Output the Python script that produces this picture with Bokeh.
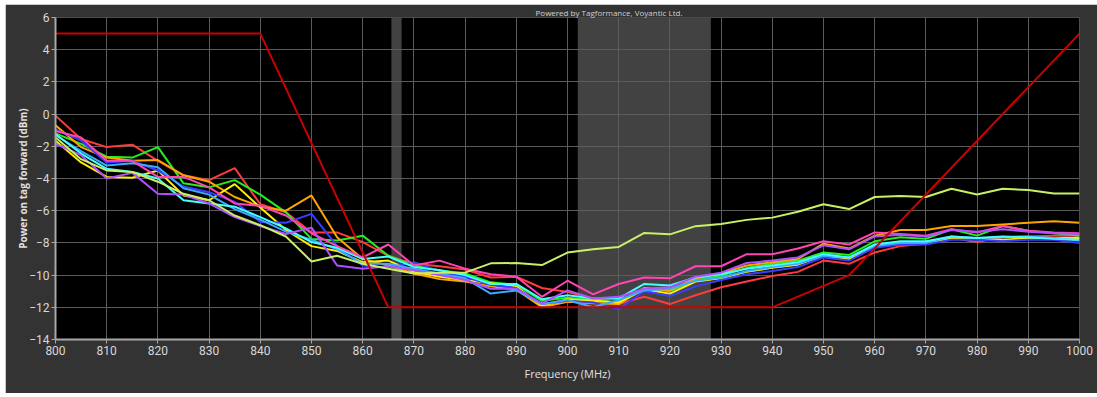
from bokeh.plotting import figure
from bokeh.models import Title
from bokeh.embed import file_html
from bokeh.resources import INLINE

# Measurement frequencies (MHz)
freq = [800, 805, 810, 815, 820, 825, 830, 835, 840, 845, 850, 855, 860, 865, 870,
        875, 880, 885, 890, 895, 900, 905, 910, 915, 920, 925, 930, 935, 940, 945,
        950, 955, 960, 965, 970, 975, 980, 985, 990, 995, 1000]

# Power on tag forward (dBm), one list per tag
tag_red = [-0.1, -1.55, -2.05, -1.9, -2.9, -3.8, -4.1, -3.35, -5.6, -6.1, -7.35, -7.35, -7.95, -8.8, -9.3,
           -9.45, -9.65, -10.15, -10.1, -10.8, -11.05, -11.45, -11.8, -11.35, -11.8, -11.25, -10.75, -10.4, -10.05, -9.8,
           -9.1, -9.3, -8.6, -8.2, -8.05, -7.7, -7.95, -7.65, -7.6, -7.55, -7.55]
tag_green = [-1.2, -1.85, -2.65, -2.7, -2.05, -4.3, -4.55, -4.1, -5.0, -6.1, -7.75, -7.85, -7.55, -8.8, -9.4,
             -9.7, -9.9, -10.45, -10.6, -11.6, -11.4, -11.55, -11.7, -10.8, -11.0, -10.3, -10.05, -9.55, -9.3, -9.1,
             -8.6, -8.75, -7.9, -7.65, -7.75, -7.15, -7.55, -6.95, -7.25, -7.4, -7.55]
tag_orange = [-0.7, -2.05, -2.7, -2.9, -2.85, -3.8, -4.2, -5.15, -5.75, -6.0, -5.05, -7.65, -9.0, -9.4, -9.9,
              -10.25, -10.4, -10.7, -10.9, -12.0, -11.65, -11.75, -11.8, -10.8, -10.95, -10.2, -9.9, -9.4, -9.2, -9.0,
              -8.05, -8.35, -7.55, -7.2, -7.2, -6.95, -6.95, -6.85, -6.75, -6.65, -6.75]
tag_yellow = [-1.65, -3.0, -3.9, -3.95, -3.5, -5.05, -5.35, -4.35, -5.8, -7.2, -8.2, -8.5, -9.2, -9.1, -9.8,
              -10.1, -10.3, -10.5, -10.7, -11.9, -11.5, -11.6, -11.7, -10.9, -11.15, -10.4, -10.2, -9.8, -9.55, -9.35,
              -8.8, -9.0, -8.2, -8.0, -8.0, -7.7, -7.75, -7.8, -7.7, -7.7, -7.7]
tag_blue = [-0.95, -1.65, -3.0, -2.9, -3.5, -4.5, -4.85, -5.45, -6.7, -6.75, -6.2, -8.2, -9.4, -9.55, -9.2,
            -9.75, -10.1, -10.6, -10.8, -11.8, -11.6, -11.7, -12.1, -11.0, -11.3, -10.7, -10.3, -9.95, -9.75, -9.5,
            -8.9, -9.1, -8.3, -8.1, -8.1, -7.8, -7.8, -7.9, -7.8, -7.8, -8.0]
tag_sky = [-1.3, -2.3, -3.2, -3.05, -3.3, -4.6, -5.0, -5.9, -6.55, -7.3, -7.8, -8.4, -9.3, -9.3, -9.6,
           -9.9, -10.2, -11.15, -10.95, -11.8, -11.55, -12.0, -11.55, -10.95, -10.85, -10.35, -10.15, -9.75, -9.5, -9.3,
           -8.8, -8.9, -8.2, -8.0, -8.0, -7.6, -7.7, -7.65, -7.6, -7.7, -7.85]
tag_cyan = [-1.25, -2.45, -3.4, -3.6, -4.0, -5.35, -5.55, -5.75, -6.4, -7.1, -7.95, -8.3, -9.0, -8.85, -9.5,
            -9.7, -10.0, -10.55, -10.55, -11.5, -11.25, -11.45, -11.45, -10.55, -10.65, -10.15, -9.95, -9.6, -9.4, -9.2,
            -8.7, -8.9, -8.1, -7.9, -7.9, -7.6, -7.7, -7.6, -7.65, -7.75, -7.8]
tag_pink = [-1.05, -1.45, -2.9, -2.9, -3.9, -3.9, -4.55, -5.55, -5.7, -6.3, -7.4, -8.2, -8.9, -8.1, -9.4,
            -9.1, -9.6, -9.95, -10.1, -11.35, -10.35, -11.2, -10.55, -10.15, -10.2, -9.45, -9.45, -8.7, -8.7, -8.35,
            -7.9, -8.1, -7.35, -7.45, -7.55, -7.15, -7.35, -6.95, -7.25, -7.35, -7.4]
tag_purple = [-1.85, -2.55, -4.0, -3.65, -4.95, -5.0, -5.55, -6.4, -6.95, -7.45, -7.05, -9.4, -9.6, -9.45, -9.7,
              -10.0, -10.3, -10.85, -10.85, -11.75, -10.95, -11.45, -11.35, -10.85, -10.75, -10.1, -9.85, -9.25, -9.1, -8.9,
              -8.15, -8.4, -7.6, -7.5, -7.6, -7.2, -7.3, -7.15, -7.3, -7.4, -7.45]
tag_lime = [-1.45, -2.8, -3.5, -3.6, -4.2, -4.95, -5.35, -6.3, -6.9, -7.6, -9.15, -8.8, -9.3, -9.6, -9.9,
            -9.85, -9.85, -9.27, -9.25, -9.38, -8.6, -8.4, -8.25, -7.38, -7.47, -6.96, -6.82, -6.57, -6.43, -6.07,
            -5.6, -5.9, -5.15, -5.08, -5.15, -4.64, -5.0, -4.64, -4.71, -4.93, -4.93]

series = [
    (tag_red, "#ff3c3c"),
    (tag_green, "#22ee22"),
    (tag_orange, "#ffa500"),
    (tag_yellow, "#ffee00"),
    (tag_blue, "#3c3cff"),
    (tag_sky, "#3ca8ff"),
    (tag_cyan, "#44ffff"),
    (tag_pink, "#ff44b4"),
    (tag_purple, "#b050ff"),
    (tag_lime, "#c8f064"),
]

# Regulatory limit mask
limit_freq = [800, 840, 865, 940, 955, 1000]
limit_dbm = [5, 5, -12, -12, -10, 5]

# Frequency bands (ETSI and FCC)
band_start = [865.6, 902]
band_end = [867.6, 928]

x_ticks = [800, 810, 820, 830, 840, 850, 860, 870, 880, 890, 900,
           910, 920, 930, 940, 950, 960, 970, 980, 990, 1000]
y_ticks = [-14, -12, -10, -8, -6, -4, -2, 0, 2, 4, 6]

p = figure(width=1092, height=389, x_range=(800, 1000), y_range=(-14, 6),
           output_backend="svg", toolbar_location=None,
           background_fill_color="black", border_fill_color="#333333",
           outline_line_color=None,
           min_border_left=50, min_border_right=18,
           min_border_top=12, min_border_bottom=54)
p.margin = (4, 0, 4, 5)

p.add_layout(Title(text="Powered by Tagformance, Voyantic Ltd.",
                   align="left", offset=480, standoff=0,
                   text_font="Open Sans", text_font_size="8px",
                   text_font_style="normal", text_color="#d0d0d0",
                   text_line_height=0.8), "above")

# bands sit beneath the grid
p.quad(left=band_start, right=band_end, bottom=-14, top=6,
       fill_color="#424242", line_color=None, level="image")

for values, color in series:
    p.line(freq, values, line_color=color, line_width=2)

p.line(limit_freq, limit_dbm, line_color="#cc0000", line_width=2)

for ax in (p.xaxis, p.yaxis):
    ax.axis_line_color = "#a8a8a8"
    ax.axis_line_width = 2
    ax.major_tick_line_color = "#a8a8a8"
    ax.major_tick_out = 4
    ax.major_tick_in = 0
    ax.minor_tick_line_color = None
    ax.major_label_standoff = 2
    ax.major_label_text_color = "#d8d8d8"
    ax.major_label_text_font = "Roboto"
    ax.major_label_text_font_size = "12px"
    ax.axis_label_text_color = "#e0e0e0"
    ax.axis_label_text_font = "Open Sans"

p.xaxis.ticker = x_ticks
p.yaxis.ticker = y_ticks
p.xaxis.axis_label = "Frequency (MHz)"
p.xaxis.axis_label_text_font_size = "11px"
p.xaxis.axis_label_text_font_style = "normal"
p.xaxis.axis_label_standoff = 8
p.yaxis.axis_label = "Power on tag forward (dBm)"
p.yaxis.axis_label_text_font_size = "10px"
p.yaxis.axis_label_text_font_style = "bold"
p.yaxis.axis_label_standoff = -4

p.xgrid.grid_line_color = "#5c5c5c"
p.ygrid.grid_line_color = "#5c5c5c"
p.xgrid.grid_line_width = 1
p.ygrid.grid_line_width = 1

open("out.html", "w").write(file_html(p, INLINE))
